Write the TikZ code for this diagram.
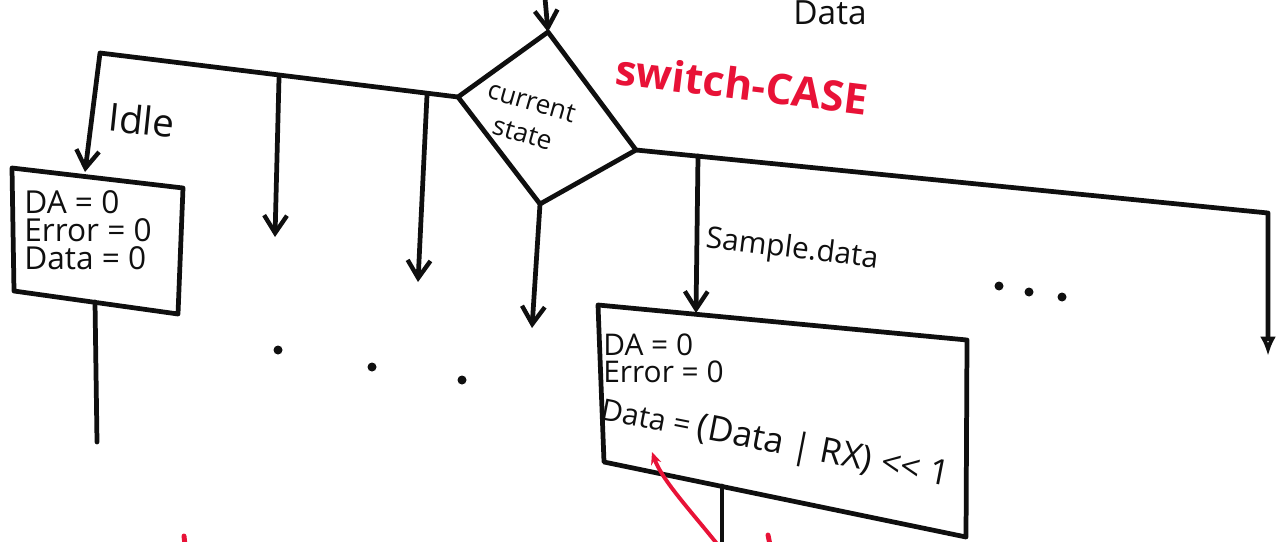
\documentclass[tikz,border=0pt]{standalone}
\usepackage{fontspec}
\setmainfont{Open Sans}
\usetikzlibrary{arrows.meta}
\definecolor{ink}{RGB}{15,15,15}
\definecolor{redink}{RGB}{232,18,55}
\begin{document}
\begin{tikzpicture}[x=0.02cm,y=-0.02cm,
  wire/.style={draw=ink,line width=2.7pt,line cap=round,line join=round},
  arr/.style={wire,-{Straight Barb[length=10pt,width=13pt,line width=2.5pt]}},
  openarr/.style={wire,-{Latex[open,length=11pt,width=9pt,line width=2.2pt]}},
  lbl/.style={text=ink,inner sep=0pt},
  boxtxt/.style={text=ink,align=left,inner sep=0pt,anchor=north west},
  redlbl/.style={text=redink,font=\fontsize{24}{26}\selectfont\bfseries,inner sep=0pt},
  dot/.style={fill=ink,draw=none}
]
\useasboundingbox (0,0) rectangle (1283,541);
\fill[white] (0,0) rectangle (1283,541);

% ---- decision diamond ----
\coordinate (dt) at (548,32);
\coordinate (dr) at (636,150);
\coordinate (db) at (540,204);
\coordinate (dl) at (458,97);
\draw[wire] (dt)--(dr)--(db)--(dl)--cycle;
\coordinate (in) at (545,-2);
\draw[arr] (in) -- (dt);
\node[lbl,font=\fontsize{15}{19}\selectfont,rotate=-16,align=center] (cs) at (527,118) {current\\state};

% text at the top edge
\node[lbl,font=\fontsize{19}{21}\selectfont,anchor=base] (topdata) at (830,24) {Data};

% red annotation
\node[redlbl,rotate=-7] (sw) at (742,84) {switch-CASE};

% ---- left bus ----
\coordinate (lb0) at (100,53);
\coordinate (idletop) at (85,172);
\draw[arr] (dl) -- (lb0) -- (idletop);
\node[lbl,font=\fontsize{22}{24}\selectfont,rotate=-6] (idle) at (142,120) {Idle};

% Idle box
\coordinate (i1) at (12,168);
\coordinate (i2) at (183,188);
\coordinate (i3) at (178,314);
\coordinate (i4) at (14,291);
\draw[wire] (i1)--(i2)--(i3)--(i4)--cycle;
\node[boxtxt,font=\fontsize{18}{16}\selectfont] (idletxt) at (24,190) {DA = 0\\Error = 0\\Data = 0};
\coordinate (ibot) at (95,302);
\coordinate (iend) at (97,442);
\draw[wire] (ibot) -- (iend);

% other branches
\coordinate (b1s) at (279,78);
\coordinate (b1e) at (275,237);
\draw[arr] (b1s) -- (b1e);
\coordinate (b2s) at (427,95);
\coordinate (b2e) at (418,282);
\draw[arr] (b2s) -- (b2e);
\coordinate (b3e) at (532,328);
\draw[arr] (db) -- (b3e);

% dots
\foreach \p in {(278,350),(372,367),(462,380),(999,286),(1029,292),(1062,297)}
  \fill[dot] \p circle (4.5);

% ---- right bus ----
\coordinate (rb0) at (1268,213);
\coordinate (rbe) at (1268,356);
\draw[openarr] (dr) -- (rb0) -- (rbe);
\coordinate (sbs) at (698,156);
\coordinate (sbe) at (696,313);
\draw[arr] (sbs) -- (sbe);
\node[lbl,font=\fontsize{17}{19}\selectfont,rotate=-7] (samp) at (792,250) {Sample.data};

% Sample box
\coordinate (s1) at (598,305);
\coordinate (s2) at (967,340);
\coordinate (s3) at (966,537);
\coordinate (s4) at (604,462);
\draw[wire] (s1)--(s2)--(s3)--(s4)--cycle;
\node[boxtxt,font=\fontsize{17}{15.5}\selectfont] (samptxt) at (603,333) {DA = 0\\Error = 0};
\node[lbl,font=\fontsize{17}{18}\selectfont,rotate=-11,anchor=west] (sampdata) at (601,410)
  {Data = {\fontsize{20}{21}\selectfont(Data | RX) <{}< 1}};
\coordinate (sbot) at (722,486);
\coordinate (send) at (722,545);
\draw[wire] (sbot) -- (send);

% red pointer
\coordinate (rtip) at (652,452);
\coordinate (rstart) at (718,545);
\draw[draw=redink,line width=2.2pt,-{Stealth[length=7pt,width=6pt]}] (rstart) .. controls (690,510) and (662,480) .. (rtip);
% fragments of red marks at the bottom edge
\draw[draw=redink,line width=2.8pt,line cap=round] (184,536) -- (185,545);
\draw[draw=redink,line width=2.8pt,line cap=round] (768,535) -- (770,545);
\end{tikzpicture}
\end{document}
